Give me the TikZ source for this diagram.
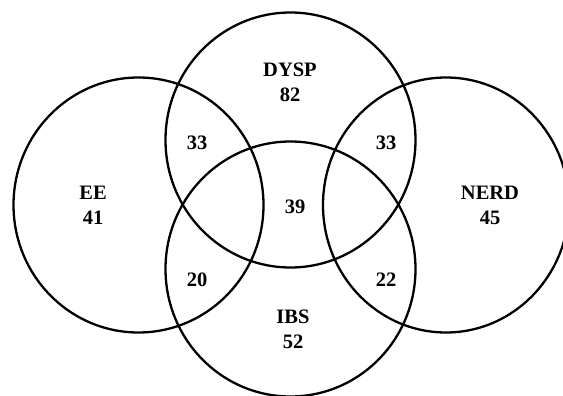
\documentclass[tikz,border=0pt]{standalone}
\usepackage{fontspec}
\setmainfont{Liberation Serif}
\begin{document}
\begin{tikzpicture}[x=1pt,y=-1pt,
  setring/.style={draw=black,line width=2.3pt},
  lbl/.style={font=\bfseries\fontsize{20.5}{25}\selectfont,align=center,inner sep=0pt}]
\useasboundingbox (0,0) rectangle (563,396);
\clip (0,0) rectangle (563,396);
% sets
\draw[setring] (138.5,205) ellipse [x radius=125, y radius=127.5];
\draw[setring] (290.5,140) ellipse [x radius=125, y radius=127.5];
\draw[setring] (446,205) ellipse [x radius=123, y radius=127.5];
\draw[setring] (290.5,269) ellipse [x radius=125, y radius=127.5];
% labels
\node[lbl] (dysp) at (290,82.5) {DYSP\\82};
\node[lbl] (ee) at (93,205.5) {EE\\41};
\node[lbl] (nerd) at (490,205.5) {NERD\\45};
\node[lbl] (ibs) at (293,329) {IBS\\52};
\node[lbl] (eedysp) at (197,143) {33};
\node[lbl] (dyspnerd) at (386,143) {33};
\node[lbl] (center) at (295,207) {39};
\node[lbl] (eeibs) at (197,280) {20};
\node[lbl] (ibsnerd) at (386,280) {22};
\end{tikzpicture}
\end{document}
